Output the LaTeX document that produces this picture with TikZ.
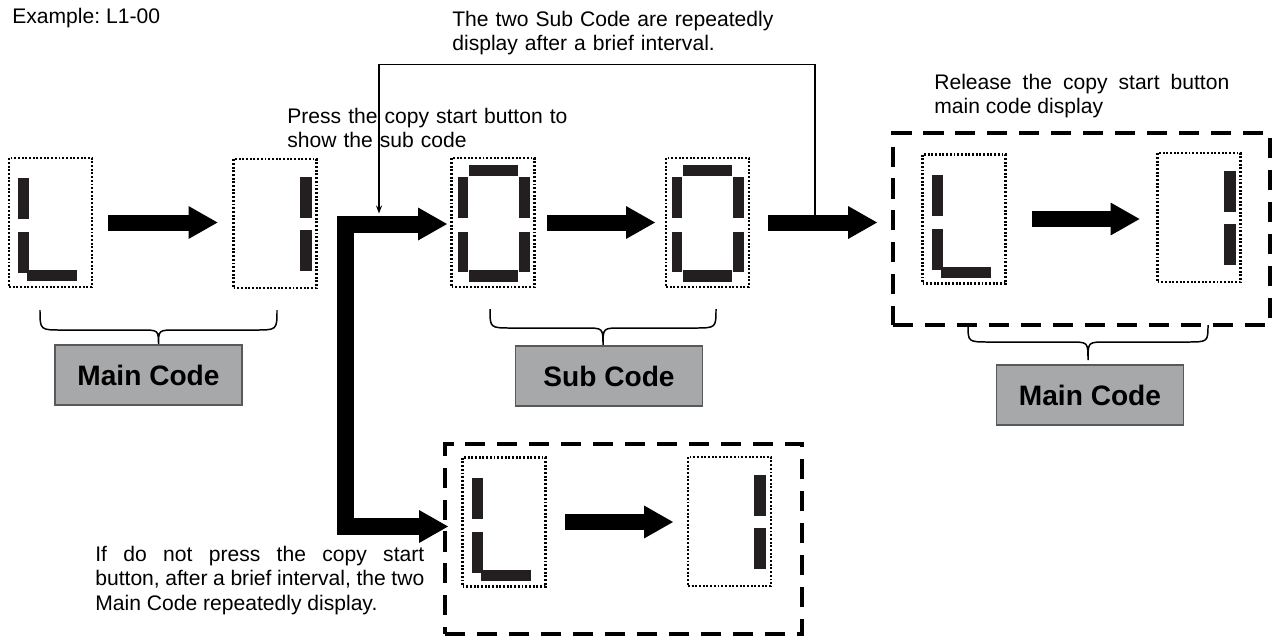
\documentclass[tikz,border=0pt]{standalone}
\usepackage{fontspec}
\setmainfont{Liberation Sans}
\usepackage{xcolor}
\usetikzlibrary{arrows.meta,calc}
\definecolor{segcol}{HTML}{231F20}
\definecolor{tagfill}{HTML}{A7A8AA}
\definecolor{tagline}{HTML}{58595B}
\hyphenpenalty=10000
\tolerance=9999
\frenchspacing

\tikzset{
  dispbox/.style={draw, line width=1.2pt, dash pattern=on 1.1pt off 1pt, minimum width=1.66cm, minimum height=2.58cm, inner sep=0pt, outer sep=0pt},
  dashbox/.style={draw, line width=2.3pt, dash pattern=on 11.4pt off 6.8pt, inner sep=0pt, outer sep=0pt},
  seg/.style={fill=segcol},
  fat/.style={line width=0.32cm, ->},
  tagbox/.style={draw=tagline, fill=tagfill, line width=0.8pt, minimum width=3.74cm, minimum height=1.2cm, font=\fontsize{16}{19}\selectfont\bfseries},
  note/.style={inner sep=0pt, font=\fontsize{12}{14.2}\selectfont},
  bracestyle/.style={line width=0.85pt},
  loopline/.style={line width=0.85pt, -{Stealth[length=0.16cm, width=0.12cm]}}
}

% segments, relative to the box corner
\newcommand{\digitL}[1]{%
  \begin{scope}[shift={(#1.north west)}]
    \fill[seg] (9,20) rectangle (20,61);
    \fill[seg] (9,74) rectangle (20,115);
    \fill[seg] (18,112) rectangle (68,123);
  \end{scope}}
\newcommand{\digitOne}[1]{%
  \begin{scope}[shift={(#1.north west)}]
    \fill[seg] (66,18) rectangle (78,59);
    \fill[seg] (66,71) rectangle (78,112);
  \end{scope}}
\newcommand{\digitZero}[1]{%
  \begin{scope}[shift={(#1.north west)}]
    \fill[seg] (17,7) rectangle (66,18);
    \fill[seg] (6,19) rectangle (16,60);
    \fill[seg] (67,19) rectangle (78,60);
    \fill[seg] (6,74) rectangle (16,114);
    \fill[seg] (67,74) rectangle (78,114);
    \fill[seg] (17,112) rectangle (66,124);
  \end{scope}}
% brace: left x, right x, top y, middle y, tip y
\newcommand{\codebrace}[5]{%
  \draw[bracestyle] (#1,#3) .. controls (#1,#4) .. ({#1+22},#4)
    -- ({(#1+#2)/2-18},#4) .. controls ({(#1+#2)/2},#4) .. ({(#1+#2)/2},#5)
    .. controls ({(#1+#2)/2},#4) .. ({(#1+#2)/2+18},#4)
    -- ({#2-22},#4) .. controls (#2,#4) .. (#2,#3);}

\begin{document}
\begin{tikzpicture}[x=0.02cm, y=-0.02cm, >={Triangle[length=0.58cm, width=0.66cm, line width=0pt]}]
  \useasboundingbox (0,0) rectangle (1272,637);

  % notes
  \node[note, anchor=base west] (ex) at (12,23) {Example: L1-00};
  \node[note, anchor=base west, text width=7cm, align=left] (subnote) at (452,26) {The two Sub Code are repeatedly\\display after a brief interval.};
  \node[note, anchor=base west, text width=6.5cm, align=left] (pressnote) at (287,123) {Press the copy start button to\\show the sub code};
  \node[note, anchor=base west, text width=5.9cm, align=justify] (relnote) at (934,89) {Release the copy start button\linebreak main code display};
  \node[note, anchor=base west, text width=6.58cm, align=justify] (ifnote) at (95,561) {If do not press the copy start\linebreak button, after a brief interval, the two\linebreak Main Code repeatedly display.};

  % displays
  \node[dispbox] (m1) at (50.5,222.5) {};
  \node[dispbox] (m2) at (275,223.5) {};
  \node[dispbox] (s1) at (493,222.5) {};
  \node[dispbox] (s2) at (707.5,222.5) {};
  \node[dispbox] (r1) at (964,219) {};
  \node[dispbox] (r2) at (1199,217.5) {};
  \node[dispbox] (q1) at (504,522) {};
  \node[dispbox] (q2) at (729.5,521.5) {};
  \digitL{m1} \digitOne{m2}
  \digitZero{s1} \digitZero{s2}
  \digitL{r1} \digitOne{r2}
  \digitL{q1} \digitOne{q2}

  % dashed groups
  \node[dashbox, minimum width=7.54cm, minimum height=3.84cm] (rel) at (1081.5,229) {};
  \node[dashbox, minimum width=7.14cm, minimum height=3.8cm] (rep) at (623.5,539) {};

  % arrows
  \draw[fat, shorten <=0.32cm, shorten >=0.32cm] (m1.east) -- (m1.east -| m2.west);
  \draw[fat, shorten <=0.26cm, shorten >=0.22cm] (s1.east) -- (s1.east -| s2.west);
  \draw[fat, shorten <=0.38cm, shorten >=0.32cm] (s2.east) -- (s2.east -| rel.west);
  \draw[fat, shorten <=0.54cm, shorten >=0.36cm] (r1.east) -- (r1.east -| r2.west);
  \draw[fat, shorten <=0.4cm, shorten >=0.3cm] (q1.east) -- (q1.east -| q2.west);
  \draw[fat, <->, line width=0.34cm, line join=miter] ($(s1.west)+(-4.5,1.5)$) -- ++(-101.5,0) |- ($(rep.west)+(3,-12.5)$);

  % loop back
  \coordinate (loopout) at ($(s2.east)+(66,-6)$);
  \coordinate (loopin) at ($(s1.west)+(-72.5,-9)$);
  \draw[loopline] (loopout) -- ++(0,-152) -| (loopin);

  % braces and tags
  \codebrace{40}{277}{310}{330}{345}
  \codebrace{490}{716}{309}{328}{345}
  \codebrace{968}{1208}{325}{342}{360}
  \node[tagbox] (tag1) at (148.5,375) {Main Code};
  \node[tagbox] (tag2) at (609,376) {Sub Code};
  \node[tagbox] (tag3) at (1090,395) {Main Code};
\end{tikzpicture}
\end{document}
